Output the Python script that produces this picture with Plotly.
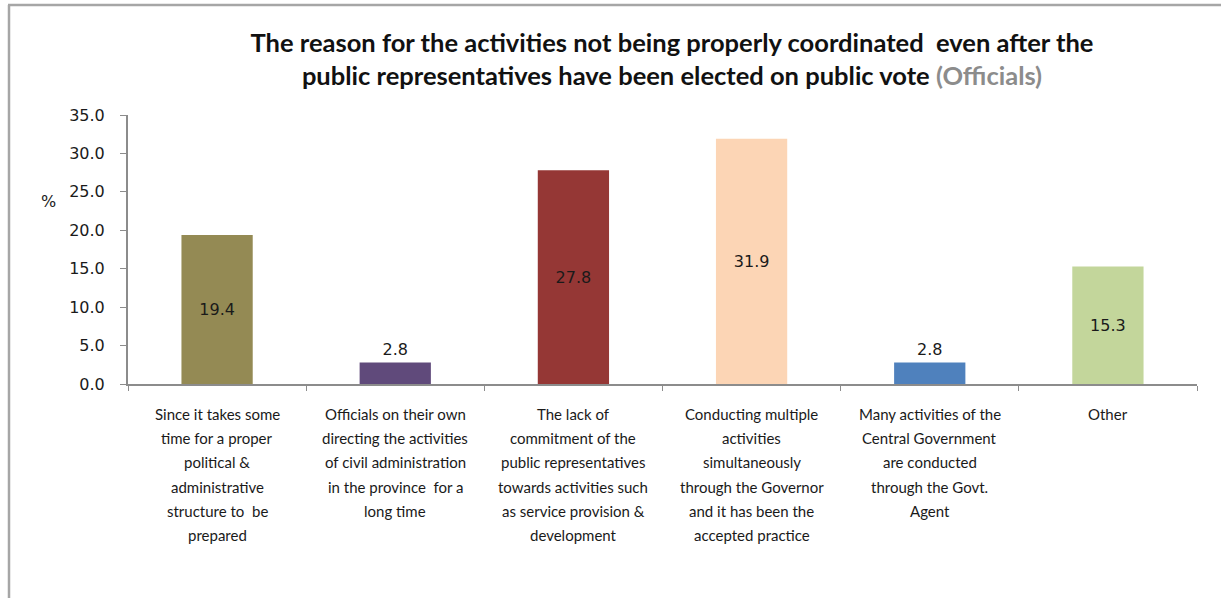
import plotly.graph_objects as go

# Survey responses (Officials), percentage per reason
categories = [
    "Since it takes some<br>time for a proper<br>political &<br>administrative<br>structure to  be<br>prepared",
    "Officials on their own<br>directing the activities<br>of civil administration<br>in the province  for a<br>long time",
    "The lack of<br>commitment of the<br>public representatives<br>towards activities such<br>as service provision &<br>development",
    "Conducting multiple<br>activities<br>simultaneously<br>through the Governor<br>and it has been the<br>accepted practice",
    "Many activities of the<br>Central Government<br>are conducted<br>through the Govt.<br>Agent",
    "Other",
]
values = [19.4, 2.8, 27.8, 31.9, 2.8, 15.3]
colors = ["#948A54", "#604A7B", "#953735", "#FCD5B5", "#4F81BD", "#C3D69B"]
y_ticks = [0, 5, 10, 15, 20, 25, 30, 35]

W, H = 1221, 598
ML, MR, MT, MB = 128, 24, 115, 214
PW, PH = W - ML - MR, H - MT - MB


def px_x(p):
    return (p - ML) / PW


def px_y(p):
    return (H - MB - p) / PH


keys = [f"c{i}" for i in range(len(categories))]
text_pos = ["inside" if v > 5 else "outside" for v in values]

fig = go.Figure(
    go.Bar(
        x=keys,
        y=values,
        marker=dict(color=colors, line=dict(width=0)),
        text=[f"{v:.1f}" for v in values],
        textposition=text_pos,
        insidetextanchor="middle",
        textfont=dict(family="DejaVu Sans", size=16, color="#1a1a1a"),
        constraintext="none",
        cliponaxis=False,
    )
)

# Category labels, one annotation per line so the line spacing stays wide
annotations = []
for key, label in zip(keys, categories):
    for i, line in enumerate(label.split("<br>")):
        annotations.append(
            dict(
                x=key, xref="x", y=0, yref="paper",
                text=line, showarrow=False,
                xanchor="center", yanchor="middle",
                yshift=-(30 + 24.2 * i),
                font=dict(family="Lato", size=15, color="#1a1a1a"),
            )
        )

annotations.append(
    dict(
        x=px_x(48), xref="paper", y=px_y(201), yref="paper",
        text="%", showarrow=False, xanchor="center", yanchor="middle",
        font=dict(family="DejaVu Sans", size=16, color="#1a1a1a"),
    )
)

fig.update_layout(
    width=W, height=H,
    margin=dict(l=ML, r=MR, t=MT, b=MB),
    paper_bgcolor="white", plot_bgcolor="white",
    showlegend=False,
    bargap=0.6,
    title=dict(
        text="The reason for the activities not being properly coordinated  even after the<br>"
             "public representatives have been elected on public vote "
             "<span style='color:#8C8C8C'>(Officials)</span>",
        x=px_x(672), xanchor="center", xref="paper",
        y=1 - 52 / H, yanchor="middle",
        font=dict(family="Lato", size=25.5, color="#111111", weight="bold"),
    ),
    xaxis=dict(
        showticklabels=False,
        showline=True, linecolor="#8C8C8C", linewidth=2,
        ticks="outside", tickson="boundaries", ticklen=5, tickcolor="#8C8C8C",
        showgrid=False, zeroline=False,
    ),
    yaxis=dict(
        range=[0, 35], tickvals=y_ticks, ticktext=[f"{t:.1f}" for t in y_ticks],
        showline=True, linecolor="#8C8C8C", linewidth=2,
        ticks="outside", ticklen=6, tickcolor="#8C8C8C",
        ticklabelstandoff=12,
        showgrid=False, zeroline=False,
        tickfont=dict(family="DejaVu Sans", size=16, color="#1a1a1a"),
    ),
    annotations=annotations,
    shapes=[
        dict(type="line", xref="paper", yref="paper",
             x0=px_x(9), x1=px_x(9), y0=px_y(5), y1=px_y(H + 5),
             line=dict(color="#A6A6A6", width=2.5)),
        dict(type="line", xref="paper", yref="paper",
             x0=px_x(8), x1=px_x(W + 5), y0=px_y(5), y1=px_y(5),
             line=dict(color="#A6A6A6", width=2.5)),
    ],
)

fig.write_html("out.html")
